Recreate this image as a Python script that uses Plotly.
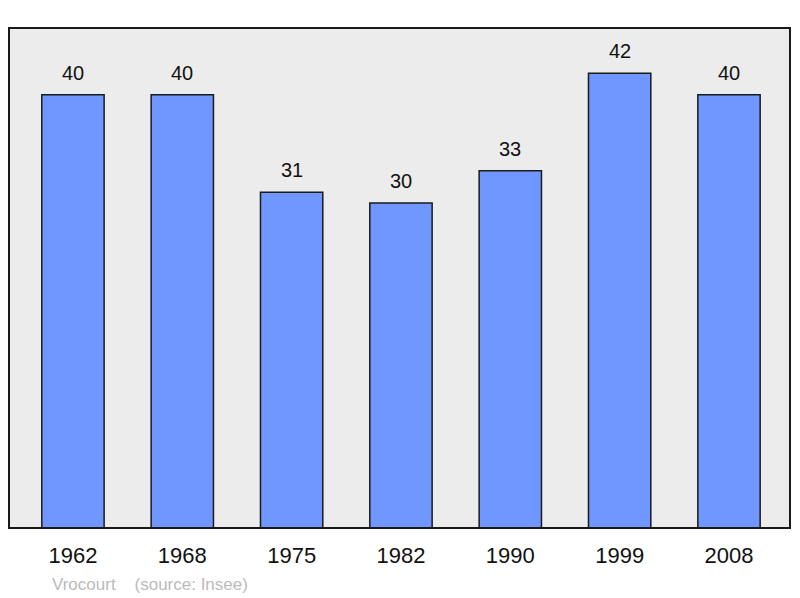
import plotly.graph_objects as go

years = ["1962", "1968", "1975", "1982", "1990", "1999", "2008"]
population = [40, 40, 31, 30, 33, 42, 40]
positions = list(range(len(years)))

BAR = "#7096ff"
BG = "#ececec"
FONT = "Liberation Sans, Arial, sans-serif"

fig = go.Figure(go.Bar(
    x=positions,
    y=population,
    width=0.57,
    marker=dict(color=BAR, line=dict(color="#1a1a1a", width=1.5)),
    hoverinfo="skip",
))

# value labels above each bar
for xp, v in zip(positions, population):
    fig.add_annotation(x=xp, y=v, text=str(v), showarrow=False,
                       yanchor="bottom", yshift=9,
                       font=dict(family=FONT, size=20, color="#111111"))

# plot frame
fig.add_shape(type="rect", xref="paper", yref="paper", x0=0, x1=1, y0=0, y1=1,
              line=dict(color="#1a1a1a", width=2), layer="above")

fig.add_annotation(xref="paper", yref="paper", x=0.052, y=0, xanchor="left",
                   yanchor="top", yshift=-45, showarrow=False,
                   text="Vrocourt&nbsp;&nbsp;&nbsp;&nbsp;(source: Insee)",
                   font=dict(family=FONT, size=17, color="#bbbbbb"))

fig.update_layout(
    width=800, height=598,
    margin=dict(l=9, r=10, t=28, b=70),
    paper_bgcolor="white",
    plot_bgcolor=BG,
    showlegend=False,
    xaxis=dict(range=[-0.585, 6.558], tickvals=positions, ticktext=years,
               showgrid=False, zeroline=False, ticks="", ticklabelstandoff=12,
               tickfont=dict(family=FONT, size=22, color="#111111")),
    yaxis=dict(range=[0, 46.17], showgrid=False, zeroline=False,
               showticklabels=False),
)

# drop the default page margin so the figure sits at the window's corner
fig.write_html("out.html", config={"displayModeBar": False},
               post_script="document.body.style.margin='0';")
